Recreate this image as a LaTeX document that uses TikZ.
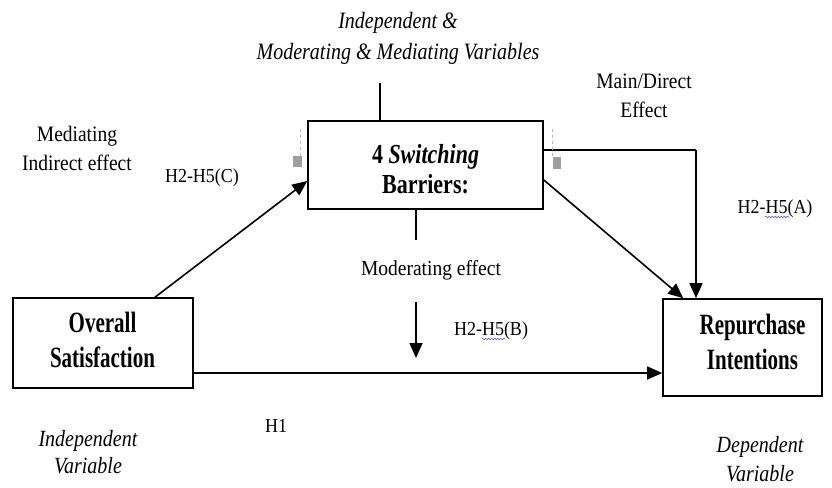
\documentclass[tikz,border=0pt]{standalone}
\usepackage{fontspec}
\setmainfont{Liberation Serif}
\usetikzlibrary{arrows.meta,calc,decorations.pathmorphing}
\newcommand\vtab[2]{\scalebox{1}[#1]{\begin{tabular}{@{}c@{}}#2\end{tabular}}}
\newcommand\vone[2]{\scalebox{1}[#1]{#2}}
\tikzset{
  box/.style={draw, line width=1.6pt, inner sep=0pt},
  conn/.style={line width=1.6pt, -{Triangle[length=15pt,width=13pt]}},
  plainline/.style={line width=1.6pt},
  lbl/.style={font=\fontsize{19.5}{25}\selectfont, inner sep=0pt},
  hlbl/.style={font=\fontsize{18}{22}\selectfont, inner sep=0pt, anchor=base},
  ilbl/.style={font=\itshape\fontsize{20}{25}\selectfont, inner sep=0pt},
  boldtxt/.style={inner sep=0pt},
  marker/.style={fill=gray!75, draw=none},
  guide/.style={draw=gray!55, dashed, line width=0.6pt},
  squig/.style={draw=blue!70, line width=0.6pt, decorate, decoration={snake, amplitude=0.7pt, segment length=3pt}}
}
\begin{document}
\begin{tikzpicture}[x=1pt,y=-1pt]
\useasboundingbox (0,0) rectangle (832,487);

% boxes
\node[box, minimum width=235pt, minimum height=88pt] (sw) at (425.5,165) {};
\node[box, minimum width=180pt, minimum height=90pt] (os) at (103,343) {};
\node[box, minimum width=159pt, minimum height=97pt] (ri) at (742.5,347.5) {};

% box texts
\node[boldtxt, font=\bfseries\fontsize{22}{24}\selectfont] (swtext) at (425.5,172) {\vtab{1.25}{4 \textit{Switching}\\Barriers:}};
\node[boldtxt, font=\bfseries\fontsize{21}{24.3}\selectfont] (ostext) at (102.5,343.2) {\vtab{1.4}{Overall\\Satisfaction}};
\node[boldtxt, font=\bfseries\fontsize{21}{24.3}\selectfont] (ritext) at (752.5,345.2) {\vtab{1.4}{Repurchase\\Intentions}};

% helper coordinates
\coordinate (topend) at (380,83);
\coordinate (botend) at (416,240);
\coordinate (modstart) at (416,302);
\coordinate (modend) at (416,358);
\coordinate (corner) at (696,150);

% connectors
\draw[conn] ($(os.north)+(52,0)$) -- ($(sw.west)+(0,16)$);
\draw[conn] ($(os.east)+(0,30)$) -- ($(ri.west)+(0,25.5)$);
\draw[conn] ($(sw.east)+(0,15)$) -- ($(ri.north west)+(21,0)$);
\draw[plainline] ($(sw.east)+(0,-15)$) -- (corner);
\draw[conn] (corner) -- (corner |- ri.north);
\draw[plainline] (topend) -- (topend |- sw.north);
\draw[plainline] (botend |- sw.south) -- (botend);
\draw[conn] (modstart) -- (modend);

% grey markers and guides
\draw[guide] (300.7,129) -- (300.7,156);
\draw[guide] (552.7,129) -- (552.7,156);
\fill[marker] (292.7,156) rectangle (301.7,166.7);
\fill[marker] (553,156.7) rectangle (561,169);

% labels
\node[ilbl, font=\itshape\fontsize{20}{27.3}\selectfont] (toplbl) at (398,37.6) {\vtab{1.17}{Independent \&\\Moderating \& Mediating Variables}};
\node[lbl, font=\fontsize{19.5}{26.5}\selectfont] (mainlbl) at (644,97) {\vtab{1.13}{Main/Direct\\Effect}};
\node[lbl, font=\fontsize{19.5}{24.8}\selectfont] (medlbl) at (77,150.4) {\vtab{1.13}{Mediating\\Indirect effect}};
\node[hlbl] (hc) at (202,182) {\vone{1.1}{H2-H5(C)}};
\node[hlbl] (ha) at (775,213) {\vone{1.1}{H2-H5(A)}};
\node[lbl, anchor=base] (modlbl) at (431,275) {\vone{1.1}{Moderating effect}};
\node[hlbl] (hb) at (491,335) {\vone{1.1}{H2-H5(B)}};
\node[hlbl] (h1) at (276,432) {\vone{1.1}{H1}};
\node[ilbl, font=\itshape\fontsize{20}{23.3}\selectfont] (indlbl) at (88,455) {\vtab{1.16}{Independent\\Variable}};
\node[ilbl, font=\itshape\fontsize{20}{25}\selectfont] (deplbl) at (760,460.7) {\vtab{1.16}{Dependent\\Variable}};

% spell-check squiggles
\draw[squig] ($(ha.base west)+(28,4)$) -- ++(24,0);
\draw[squig] ($(hb.base west)+(28,4)$) -- ++(23,0);
\end{tikzpicture}
\end{document}
